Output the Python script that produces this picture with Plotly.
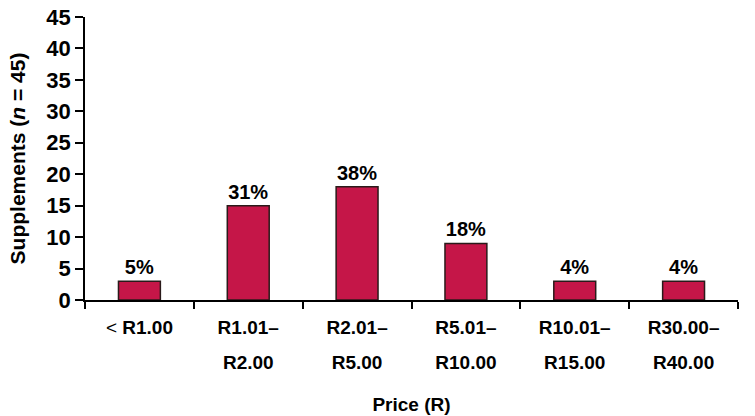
import plotly.graph_objects as go

# Price bands and supplement counts
categories = ["< R1.00", "R1.01–R2.00", "R2.01–R5.00", "R5.01–R10.00", "R10.01–R15.00", "R30.00–R40.00"]
tick_labels = ["< <b>R1.00</b>", "<b>R1.01–</b><br><b>R2.00</b>", "<b>R2.01–</b><br><b>R5.00</b>",
               "<b>R5.01–</b><br><b>R10.00</b>", "<b>R10.01–</b><br><b>R15.00</b>", "<b>R30.00–</b><br><b>R40.00</b>"]
counts = [3, 15, 18, 9, 3, 3]
pct_labels = ["5%", "31%", "38%", "18%", "4%", "4%"]

BAR = "#C51648"
FONT = "Liberation Sans, Arial, sans-serif"

# bigger base font gives roomier line spacing, spans keep text at 19px
span = "<span style='font-size:19px'>{}</span>"
ticktext = ["<br>".join(span.format(p) for p in t.split("<br>")) for t in tick_labels]

fig = go.Figure(go.Bar(
    x=categories,
    y=counts,
    text=pct_labels,
    textposition="outside",
    textfont=dict(size=20, color="black", family=FONT, weight="bold"),
    cliponaxis=False,
    marker=dict(color=BAR, line=dict(color="#2a1a1a", width=1.5)),
))

fig.update_layout(
    width=755, height=416,
    margin=dict(l=85, r=17, t=17, b=116),
    paper_bgcolor="white",
    plot_bgcolor="white",
    font=dict(family=FONT, color="black"),
    bargap=0.615,
    showlegend=False,
)

fig.update_xaxes(
    automargin=False,
    tickmode="array", tickvals=categories, ticktext=ticktext,
    tickfont=dict(size=27, family=FONT),
    tickson="boundaries", ticks="outside", ticklen=7, tickwidth=1.5, tickcolor="black",
    showline=True, linecolor="black", linewidth=1.5,
    showgrid=False,
    title=dict(text="<b>Price (R)</b>", font=dict(size=19), standoff=25),
)

fig.update_yaxes(
    automargin=False,
    range=[0, 45], dtick=5,
    ticks="outside", ticklen=8, tickwidth=1.5, tickcolor="black",
    tickfont=dict(size=22, family=FONT, weight="bold"),
    showline=True, linecolor="black", linewidth=1.5,
    showgrid=False, zeroline=False,
    title=dict(text="<b>Supplements (<i>n</i> = 45)</b>", font=dict(size=21), standoff=15),
)

# drop the default page margin so the figure sits at the window's corner
fig.write_html("out.html", config={"displayModeBar": False},
               post_script="document.body.style.margin='0';")
